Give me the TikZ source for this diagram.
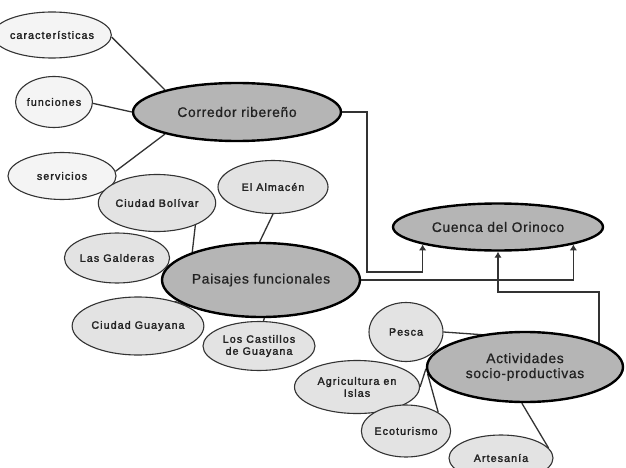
\documentclass[tikz,border=0pt]{standalone}
\usepackage{fontspec}
\setmainfont{Liberation Sans}
\newfontfamily\biglbl[LetterSpace=5,FakeBold=0.8]{Liberation Sans}
\newfontfamily\smalllbl[LetterSpace=10,FakeBold=2]{Liberation Sans}
\usetikzlibrary{shapes.geometric,arrows.meta,backgrounds}
\definecolor{mainfill}{HTML}{B5B5B5}
\definecolor{subfill}{HTML}{E3E3E3}
\definecolor{topfill}{HTML}{F4F4F4}
\definecolor{linecol}{HTML}{333333}
\definecolor{textcol}{HTML}{222222}
\tikzset{
  mainell/.style={ellipse, draw=black, line width=2.4pt, fill=mainfill, inner sep=0pt,
    align=center, text=textcol, font=\biglbl\fontsize{13.8}{15}\selectfont},
  subell/.style={ellipse, draw=linecol, line width=1.1pt, fill=subfill, inner sep=0pt,
    align=center, text=textcol, font=\smalllbl\fontsize{10.7}{12}\selectfont},
  topell/.style={subell, fill=topfill},
  conn/.style={draw=linecol, line width=1.3pt},
  arr/.style={conn, -{Latex[length=6pt,width=7.5pt]}}
}
\begin{document}
\begin{tikzpicture}[x=1pt,y=-1pt]
\useasboundingbox (0,0) rectangle (626,468);
\begin{scope}[on background layer]
\fill[white] (0,0) rectangle (626,468);
\end{scope}
% main nodes
\node[mainell, minimum width=208pt, minimum height=58pt] (cor) at (237,112) {Corredor ribereño};
\node[mainell, minimum width=198pt, minimum height=74pt] (pai) at (261,280) {Paisajes funcionales};
\node[mainell, minimum width=210pt, minimum height=47pt] (cue) at (498,227) {Cuenca del Orinoco};
\node[mainell, minimum width=196pt, minimum height=70pt] (act) at (525,367) {Actividades\\socio-productivas};
% top group
\node[topell, minimum width=97pt, minimum height=46pt] (car) at (52,35) {características};
\node[topell, minimum width=76pt, minimum height=51pt] (fun) at (54,102) {funciones};
\node[topell, minimum width=108pt, minimum height=47pt] (ser) at (62,176) {servicios};
% paisajes group
\node[subell, minimum width=111pt, minimum height=57pt] (cb) at (157,203) {Ciudad Bolívar};
\node[subell, minimum width=110pt, minimum height=53pt] (alm) at (273,187) {El Almacén};
\node[subell, minimum width=90pt, minimum height=50pt] (gal) at (117,258) {Las Galderas};
\node[subell, minimum width=117pt, minimum height=58pt] (cg) at (138,326) {Ciudad Guayana};
\node[subell, minimum width=112pt, minimum height=49pt] (lc) at (259,346) {Los Castillos\\de Guayana};
% actividades group
\node[subell, minimum width=74pt, minimum height=59pt] (pes) at (406,332) {Pesca};
\node[subell, minimum width=125pt, minimum height=53pt] (agr) at (357,387) {Agricultura en\\Islas};
\node[subell, minimum width=88pt, minimum height=52pt] (eco) at (406,431) {Ecoturismo};
\node[subell, minimum width=104pt, minimum height=46pt] (art) at (501,458) {Artesanía};
% junction points
\coordinate (j1) at (367,272);
\coordinate (j3) at (498,292);
\begin{scope}[on background layer]
\draw[conn] (car.-2) -- (cor.163);
\draw[conn] (fun.-2) -- (cor.180);
\draw[conn] (ser.5) -- (cor.197);
\draw[conn] (cb.-30) -- (pai.158);
\draw[conn] (alm.south) -- (pai.92);
\draw[conn] (cg.34) -- (pai.200);
\draw[conn] (lc.80) -- (pai.275);
\draw[conn] (pes.east) -- (act.18);
\draw[conn] (agr.east) -- (act.181);
\draw[conn] (eco.30) -- (act.184);
\draw[conn] (art.12) -- (act.265);
\end{scope}
\draw[arr] (cor.east) -| (j1) -| (cue.193.4);
\draw[arr] (pai.east) -| (cue.347.6);
\draw[arr] (act.18) |- (j3) -- (j3 |- cue.south);
\end{tikzpicture}
\end{document}
